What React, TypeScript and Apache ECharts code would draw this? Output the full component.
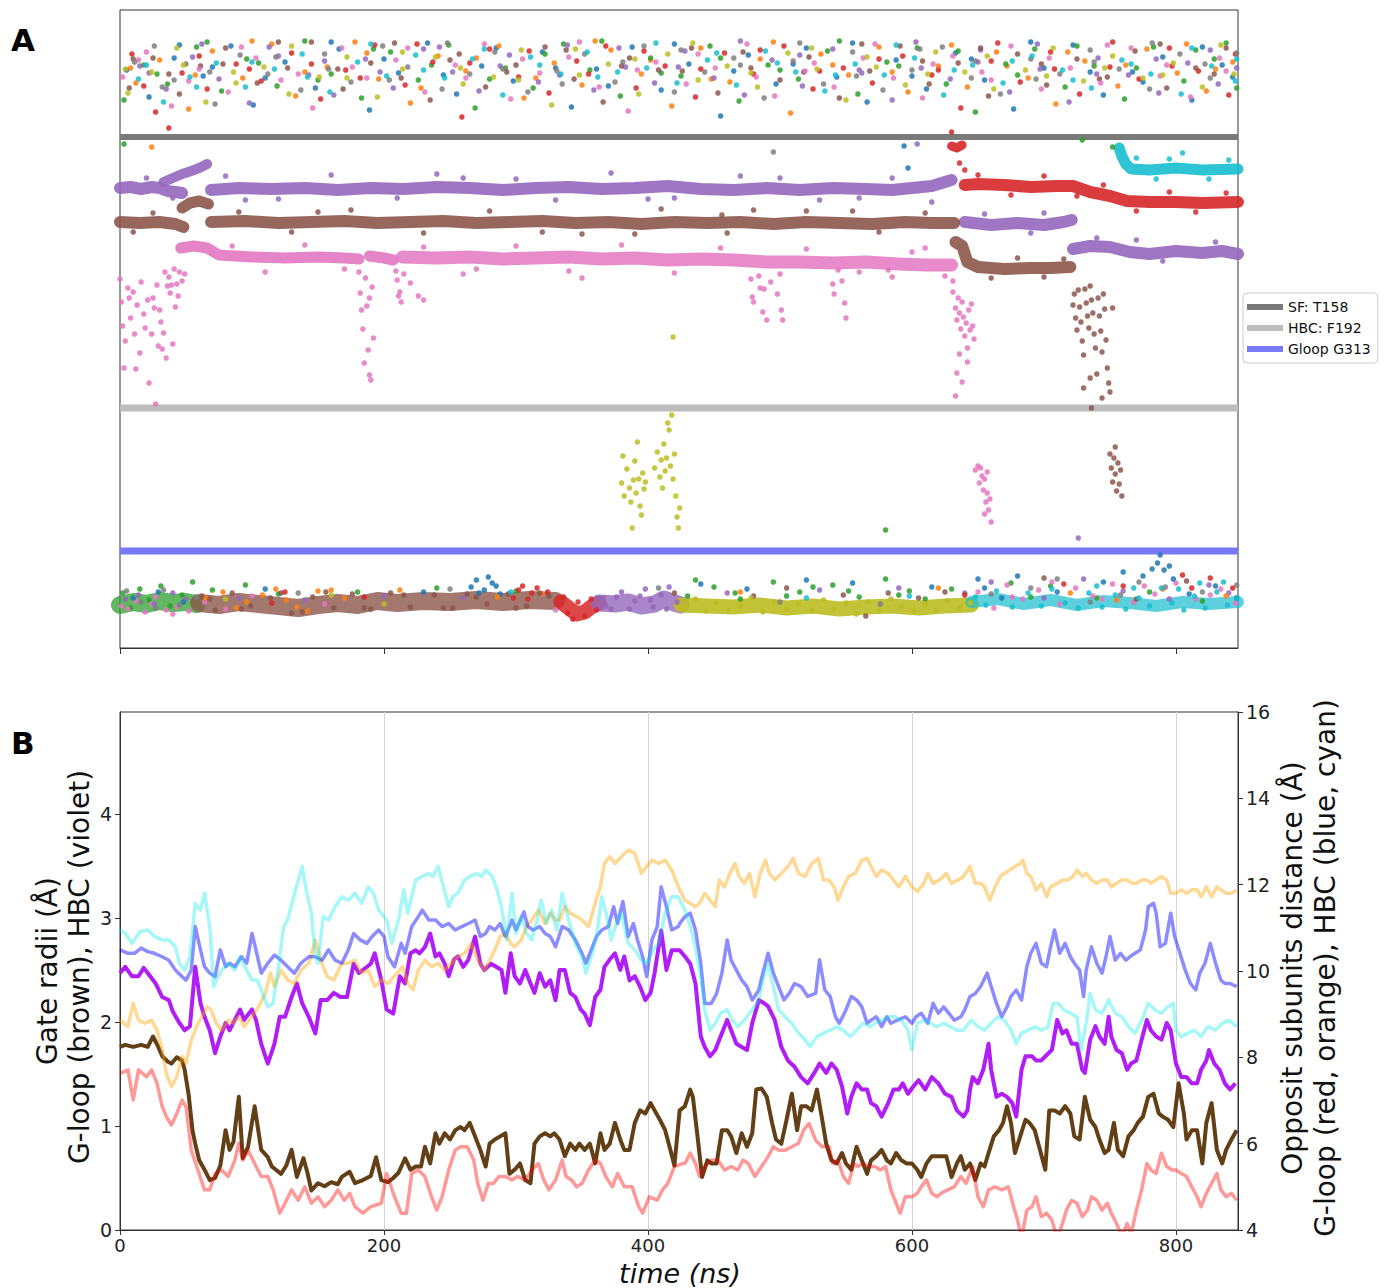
import React, { useEffect, useRef } from "react";
import * as echarts from "echarts";

// ---------- shared ----------
const T_MAX = 847;
const xTicks = [0, 200, 400, 600, 800];
const leftTicks = [0, 1, 2, 3, 4];
const FONT = "DejaVu Sans";
const C = {
  blue: "#1f77b4", orange: "#ff7f0e", green: "#2ca02c", red: "#d62728", purple: "#9467bd",
  brown: "#8c564b", pink: "#e377c2", gray: "#7f7f7f", olive: "#bcbd22", cyan: "#17becf",
};

// ---------- Panel A: reference levels ----------
const refNames = ["SF: T158", "HBC: F192", "Gloop G313"];
const refLevels = [51.1, 24.0, 9.7];
const refColors = ["#7a7a7a", "#bdbdbd", "#7878f8"];
const refWidths = [6, 7, 7];

// ---------- Panel A: bands (time ns, z) ----------
const purpleBand1 = [[0,46.0],[8,46.1],[16,45.9],[24,46.1],[30,46.0],[36,45.7],[42,45.6],[47,45.5]];
const purpleRise = [[33,46.6],[40,47.0],[47,47.4],[54,47.7],[60,48.0],[66,48.4]];
const purpleBand2 = [[69,45.8],[90,46.0],[115,45.9],[140,46.0],[165,45.8],[190,46.0],[215,45.9],[240,46.1],[265,46.0],[290,45.8],[315,46.0],[340,46.1],[365,45.9],[390,46.0],[415,46.2],[440,45.9],[465,45.8],[490,46.0],[515,45.8],[540,46.0],[565,45.9],[585,45.8],[600,46.0],[615,46.2],[625,46.6],[630,46.8]];
const purpleBand3 = [[640,42.6],[660,42.3],[680,42.5],[700,42.3],[715,42.6],[721,42.8]];
const purpleBand4 = [[722,39.9],[735,40.2],[750,40.1],[765,39.6],[780,39.4],[800,39.7],[820,39.5],[835,39.7],[847,39.4]];
const brownBand1 = [[0,42.6],[15,42.5],[30,42.6],[42,42.4],[48,42.1]];
const brownRise = [[47,44.0],[53,44.5],[60,44.7],[67,44.4]];
const brownBand2 = [[69,42.6],[95,42.7],[120,42.5],[145,42.6],[170,42.7],[195,42.5],[220,42.6],[245,42.7],[270,42.5],[295,42.6],[320,42.7],[345,42.5],[370,42.6],[395,42.4],[420,42.6],[445,42.5],[470,42.6],[495,42.4],[520,42.6],[545,42.5],[570,42.4],[595,42.6],[615,42.5],[632,42.5]];
const brownBand3 = [[633,40.6],[638,40.2],[642,38.6],[650,38.1],[670,37.9],[690,38.0],[705,38.0],[720,38.1]];
const pinkBand1 = [[46,40.0],[56,40.2],[66,40.0],[75,39.3],[100,39.1],[125,39.0],[150,39.1],[170,39.0],[181,38.9]];
const pinkBand2 = [[189,39.2],[200,39.0],[207,38.8]];
const pinkBand3 = [[214,39.1],[240,39.0],[265,39.1],[290,38.9],[315,39.0],[340,39.1],[365,38.9],[390,39.0],[415,38.8],[440,38.9],[465,38.8],[490,38.6],[515,38.6],[540,38.5],[565,38.6],[590,38.4],[610,38.3],[630,38.3]];
const redSpike = [[630,50.2],[634,50.0],[638,50.3]];
const redBand = [[640,46.3],[650,46.4],[670,46.3],[690,46.1],[710,46.2],[722,46.2],[735,45.6],[750,45.2],[763,44.7],[780,44.6],[800,44.6],[820,44.5],[847,44.6]];
const cyanBand = [[757,50.0],[759,49.2],[762,48.4],[766,47.9],[780,47.8],[800,48.0],[820,47.8],[847,47.9]];

// band fringes (stray points around the dense bands)
const purpleFringe = [[80,47.2],[95,44.8],[120,44.9],[160,47.3],[210,45.0],[240,47.4],[260,47.0],[300,46.9],[330,44.8],[372,47.5],[400,44.9],[420,45.0],[470,47.2],[500,47.0],[530,44.8],[560,45.0],[585,47.0],[615,44.6],[20,47.0],[40,45.0],[655,43.4],[690,41.5],[740,41.0],[790,38.7],[830,40.6],[700,43.5],[770,40.8]];
const brownFringe = [[90,43.6],[130,41.6],[150,43.6],[175,43.8],[230,41.5],[280,43.7],[320,41.6],[350,41.4],[390,41.4],[410,43.9],[456,43.3],[460,41.5],[480,43.8],[520,43.7],[555,43.7],[575,41.6],[610,43.5],[10,41.6],[25,43.5],[660,37.0],[680,39.0],[700,37.1],[715,38.9]];
const pinkFringe = [[85,40.2],[110,37.6],[140,40.3],[170,37.9],[230,40.1],[260,37.4],[270,37.9],[300,40.2],[340,37.7],[350,37.0],[380,40.3],[420,37.5],[455,40.0],[500,37.4],[520,39.9],[560,37.6],[600,39.6],[625,37.2],[610,40.0],[585,37.1]];
const redFringe = [[650,47.3],[675,45.3],[700,47.2],[725,45.2],[745,46.3],[770,43.7],[795,45.6],[815,43.6],[838,45.5],[636,48.5],[640,47.8]];
const cyanFringe = [[770,49.0],[785,46.9],[805,49.5],[825,46.9],[840,48.8],[795,48.9]];

// ---------- Panel A: top cloud (time ns, z) ----------
const topBlue = [[5,57.8],[22,55.1],[41,59.0],[63,57.2],[84,60.2],[101,54.3],[125,58.6],[148,56.0],[166,59.9],[189,53.8],[211,57.5],[233,60.5],[255,55.4],[274,58.2],[298,56.7],[320,59.6],[342,54.1],[361,57.9],[388,60.1],[410,55.8],[431,58.4],[455,53.2],[476,59.3],[497,56.4],[520,60.0],[543,57.1],[566,54.6],[588,58.8],[611,55.9],[633,59.5],[655,56.8],[677,53.9],[700,58.0],[722,60.3],[745,55.3],[767,57.6],[790,59.1],[812,54.8],[835,58.3],[594,50.2],[597,48.0],[45,60.3],[70,58.1],[110,57.0],[160,60.6],[200,58.9],[245,57.3],[285,60.0],[330,58.0],[370,56.2],[420,60.4],[465,57.7],[510,58.4],[555,60.5],[600,57.2],[645,58.9],[690,60.6],[735,57.6],[775,56.6],[820,60.1],[843,57.1]];
const topOrange = [[12,56.5],[30,58.8],[52,53.9],[70,59.7],[93,57.0],[115,60.4],[133,55.2],[157,58.1],[178,60.6],[196,56.9],[220,54.5],[241,59.2],[262,57.7],[287,60.2],[306,55.0],[329,58.5],[350,56.3],[372,59.8],[395,57.4],[418,54.2],[440,60.0],[462,56.6],[485,58.9],[508,53.5],[531,59.4],[552,57.3],[575,60.1],[597,55.6],[620,58.2],[642,56.1],[664,59.6],[688,57.0],[709,54.4],[731,58.7],[756,56.2],[778,59.9],[801,57.5],[823,55.7],[843,58.6],[24,50.1],[8,58.0],[57,57.3],[100,60.7],[140,57.6],[187,59.5],[228,56.0],[270,59.0],[315,57.0],[360,60.7],[402,58.8],[448,56.9],[495,60.6],[540,58.3],[585,57.6],[630,60.3],[672,58.2],[718,59.6],[762,58.3],[808,60.4],[830,57.9]];
const topGreen = [[3,54.8],[18,58.3],[36,56.4],[58,60.1],[77,55.7],[96,58.9],[119,56.2],[140,60.7],[160,57.4],[183,55.0],[205,59.6],[226,56.8],[249,60.3],[269,54.0],[292,58.0],[313,56.0],[336,60.4],[356,57.8],[379,55.2],[402,59.0],[425,57.2],[447,60.2],[469,54.7],[491,58.3],[514,56.9],[536,59.7],[559,55.4],[581,58.6],[604,60.0],[626,56.4],[648,53.6],[671,58.4],[693,59.9],[716,56.1],[738,58.2],[761,54.9],[783,60.1],[806,56.7],[829,58.9],[846,56.0],[3,50.4],[729,50.8],[752,50.1],[28,57.4],[66,60.6],[105,58.5],[150,56.8],[192,59.9],[236,58.3],[280,56.9],[322,59.4],[365,60.7],[410,57.5],[455,59.0],[500,57.8],[545,60.7],[590,58.2],[635,59.7],[680,57.3],[725,60.2],[770,58.0],[815,59.8],[838,60.5]];
const topRed = [[9,59.4],[27,53.6],[47,57.5],[66,55.9],[88,58.4],[107,56.7],[130,59.5],[152,54.9],[171,57.8],[193,60.3],[216,56.3],[237,58.6],[259,53.1],[280,59.9],[302,57.1],[325,55.5],[346,58.7],[368,60.2],[391,56.0],[413,58.2],[436,55.1],[458,59.5],[480,57.4],[503,60.2],[525,55.9],[548,58.0],[570,56.5],[593,59.2],[615,57.3],[637,54.0],[660,58.7],[682,56.6],[705,59.6],[727,55.4],[750,58.1],[772,56.9],[795,60.0],[817,57.7],[840,55.3],[37,52.0],[630,51.6],[18,56.2],[60,59.2],[98,57.9],[145,58.4],[182,57.0],[225,60.4],[265,58.5],[310,59.7],[355,57.4],[397,59.7],[440,57.9],[485,59.8],[530,57.7],[575,58.9],[620,57.8],[665,60.5],[708,57.9],[752,60.6],[797,58.2],[845,59.4]];
const topPurple = [[15,58.2],[35,55.9],[55,59.1],[75,56.9],[98,54.5],[120,59.2],[143,57.3],[162,55.3],[186,58.9],[207,56.0],[230,59.9],[252,57.6],[272,55.7],[295,59.3],[317,56.6],[339,60.3],[359,55.8],[383,58.1],[405,56.5],[428,59.7],[450,57.0],[473,55.3],[494,58.8],[517,56.2],[540,59.9],[562,57.5],[585,54.8],[607,58.0],[629,56.9],[652,59.8],[674,55.6],[697,57.9],[719,54.6],[741,59.0],[764,57.3],[787,55.5],[809,58.5],[832,56.4],[604,50.4],[22,57.5],[62,60.4],[113,60.1],[155,58.7],[197,57.6],[242,60.1],[288,58.2],[333,57.3],[378,60.0],[423,58.1],[470,60.7],[515,59.3],[560,57.8],[603,60.6],[650,58.6],[695,60.4],[740,57.4],[785,58.9],[826,59.8],[846,58.0]];
const topBrown = [[7,56.0],[25,59.0],[45,55.4],[61,58.2],[80,60.0],[104,56.5],[127,58.0],[145,60.6],[169,55.9],[190,58.5],[213,57.0],[235,54.8],[257,59.4],[277,56.1],[300,58.3],[322,60.1],[344,56.9],[366,54.6],[386,59.0],[408,57.8],[433,60.0],[453,55.5],[478,58.0],[500,56.8],[522,59.1],[545,55.0],[568,57.7],[591,60.2],[613,56.4],[635,58.5],[658,55.2],[680,59.4],[702,56.3],[725,58.9],[748,57.1],[769,59.7],[793,56.0],[815,58.0],[838,60.0],[37,57.4],[78,58.4],[120,60.6],[165,57.9],[208,60.5],[250,58.8],[293,57.6],[338,59.8],[380,58.2],[426,57.7],[472,59.6],[518,57.6],[562,60.4],[608,58.7],[652,60.0],[698,58.4],[742,56.9],[788,60.4],[829,57.4],[10,58.9]];
const topPink = [[2,57.1],[20,59.6],[39,54.2],[60,57.9],[82,55.6],[103,59.0],[122,56.8],[146,54.0],[168,60.0],[187,57.0],[209,58.8],[231,55.6],[254,58.3],[276,60.4],[296,54.9],[318,57.5],[340,59.1],[363,56.1],[385,53.7],[406,58.6],[429,56.4],[451,58.0],[475,60.4],[496,55.2],[519,57.7],[541,56.1],[563,59.0],[586,57.0],[608,55.0],[631,59.2],[653,57.6],[675,60.2],[698,55.9],[720,58.0],[743,56.5],[766,60.0],[788,57.2],[811,55.1],[833,59.0],[14,58.8],[52,56.7],[92,60.1],[135,57.4],[176,58.1],[218,60.0],[262,57.0],[305,58.9],[348,60.6],[392,57.8],[438,59.4],[482,57.1],[526,58.5],[572,60.4],[616,58.4],[660,56.8],[704,59.0],[748,60.3],[793,58.3],[838,57.7]];
const topGray = [[11,58.6],[32,56.1],[50,58.4],[72,54.4],[91,59.3],[112,57.4],[137,55.8],[155,59.4],[175,56.6],[199,60.2],[218,58.1],[244,55.9],[265,57.4],[284,59.6],[309,55.6],[331,57.7],[352,59.4],[375,56.6],[397,60.2],[420,55.6],[443,57.6],[465,59.0],[488,55.0],[510,58.7],[533,56.4],[555,59.6],[578,55.8],[600,57.8],[623,60.1],[645,57.0],[667,55.4],[690,58.9],[712,57.4],[735,59.8],[757,57.9],[780,55.9],[803,59.4],[826,57.0],[846,59.5],[495,49.6],[26,60.2],[68,57.6],[118,59.1],[158,57.9],[204,56.8],[248,60.5],[290,57.9],[335,56.4],[381,58.6],[425,59.8],[470,58.3],[515,60.5],[558,57.2],[606,59.9],[648,58.7],[694,56.9],[738,58.6],[782,60.5],[822,58.4],[41,56.8]];
const topOlive = [[6,55.5],[24,57.6],[43,60.0],[65,54.6],[86,57.6],[109,58.1],[128,55.4],[151,57.1],[172,59.1],[195,55.1],[214,57.9],[239,59.1],[260,56.4],[283,57.1],[304,59.8],[327,54.3],[348,57.3],[370,58.4],[393,55.4],[415,59.4],[438,56.8],[460,58.2],[483,56.1],[506,59.5],[528,57.9],[550,54.8],[573,58.1],[595,56.3],[618,59.6],[640,57.6],[662,55.9],[686,57.8],[707,60.0],[730,56.7],[752,59.2],[775,57.0],[798,58.5],[820,56.1],[844,57.4],[4,57.9],[48,58.3],[88,56.5],[130,60.2],[172,57.0],[214,59.6],[258,58.0],[302,56.8],[345,59.9],[390,58.9],[434,60.5],[478,57.5],[524,60.0],[566,59.1],[612,57.4],[657,59.2],[702,57.2],[746,58.0],[790,57.3],[834,60.3]];
const topCyan = [[14,56.9],[33,54.6],[53,57.1],[73,58.5],[95,56.1],[117,57.9],[138,59.4],[159,55.6],[180,58.6],[202,57.2],[224,59.3],[246,57.0],[267,58.9],[290,55.3],[311,59.1],[334,57.4],[354,59.6],[377,57.6],[399,58.0],[422,56.5],[445,58.8],[467,56.3],[489,59.7],[512,57.6],[534,55.7],[557,58.4],[579,57.3],[602,59.0],[624,55.3],[646,58.3],[669,56.5],[691,59.2],[714,57.8],[736,56.0],[759,58.8],[781,57.4],[804,55.4],[827,58.2],[845,56.7],[20,58.3],[58,56.1],[100,58.6],[142,57.1],[190,60.4],[230,57.8],[276,59.9],[318,58.3],[362,57.1],[406,60.5],[452,59.5],[498,58.5],[542,57.3],[588,60.3],[632,57.8],[676,58.7],[722,56.8],[766,58.4],[812,60.0],[846,58.9]];

// ---------- Panel A: excursions ----------
const pinkEarly = [[0,36.9],[1,34.6],[2,32.2],[3,28.0],[4,30.7],[6,36.0],[8,33.0],[10,35.6],[11,31.4],[13,34.3],[15,29.5],[16,36.6],[18,33.4],[19,32.0],[21,34.8],[22,26.5],[24,31.4],[25,35.0],[26,34.0],[27,24.4],[28,36.3],[30,33.8],[31,32.6],[32,29.9],[33,31.5],[35,29.0],[37,37.1],[38,35.5],[39,36.3],[40,30.4],[42,34.1],[43,36.4],[44,35.2],[45,37.6],[34,37.6],[36,36.2],[41,37.9],[47,36.7],[49,37.4],[29,30.2],[12,27.9],[7,35.0]];
const pinkDips = [[181,37.6],[182,35.5],[183,33.8],[184,31.9],[185,28.5],[186,37.0],[187,34.2],[188,29.8],[189,27.3],[190,26.8],[191,36.1],[192,31.0],[189,35.0],[209,37.7],[210,36.8],[211,35.2],[212,35.6],[213,34.6],[215,37.4],[220,36.5],[226,35.2],[230,34.8],[478,36.9],[479,35.1],[480,34.6],[484,37.2],[485,36.0],[487,33.6],[488,35.9],[490,32.8],[493,36.6],[501,33.8],[502,32.8],[498,35.4],[540,36.4],[541,35.4],[547,36.7],[549,34.5],[550,33.0],[544,37.8],[582,37.8]];
const pinkDrop = [[631,35.6],[633,34.0],[634,32.8],[635,35.0],[636,33.5],[637,31.9],[638,34.6],[639,33.1],[640,31.2],[641,32.5],[642,30.0],[643,33.8],[644,31.8],[645,34.4],[636,29.4],[634,27.5],[638,26.6],[642,28.6],[646,32.2],[631,36.7],[647,30.9],[633,25.2]];
const pinkLow = [[648,17.8],[650,18.2],[651,16.5],[653,17.2],[654,15.8],[655,16.9],[656,14.6],[657,15.5],[658,13.8],[659,14.9],[660,12.6],[652,18.0],[655,13.4],[657,17.6]];
const brownDrop = [[722,34.3],[723,35.4],[724,33.0],[725,31.8],[726,35.8],[727,34.1],[728,32.6],[729,30.7],[730,29.3],[731,35.9],[732,34.5],[733,33.2],[734,32.0],[735,36.2],[736,34.8],[737,33.5],[738,31.4],[739,30.0],[741,35.0],[742,33.2],[743,31.7],[744,29.6],[745,35.4],[746,33.9],[747,30.8],[748,28.0],[749,26.5],[750,25.6],[740,27.4],[735,27.0],[730,26.0],[744,25.0],[736,24.0],[752,34.0]];
const brownLow = [[750,19.4],[751,18.0],[752,16.6],[753,19.0],[754,17.4],[755,15.7],[756,18.5],[757,16.4],[758,17.8],[759,15.2],[754,20.1]];
const oliveLow = [[380,16.5],[382,15.2],[384,17.9],[386,16.0],[387,14.6],[389,16.8],[390,18.7],[391,15.5],[393,16.9],[394,14.2],[396,17.5],[397,15.9],[398,16.6],[381,19.2],[392,20.6],[395,13.3],[388,12.0],[405,18.0],[407,19.6],[409,17.1],[410,18.8],[412,20.4],[413,17.7],[414,19.0],[416,21.8],[417,18.2],[418,23.3],[419,16.9],[420,19.4],[421,15.2],[422,13.1],[423,12.0],[415,22.5],[411,16.0],[424,14.0],[419,31.1]];

// ---------- Panel A: bottom cloud ----------
const coreGreen = [[0,4.3],[10,4.6],[20,4.4],[30,4.7],[40,4.5],[50,4.6],[58,4.4]];
const coreBrown = [[60,4.5],[75,4.3],[90,4.6],[105,4.4],[120,4.2],[135,4.0],[150,4.3],[165,4.5],[180,4.3],[195,4.7],[210,4.5],[230,4.7],[250,4.6],[270,4.8],[290,4.6],[310,4.8],[330,4.7]];
const coreRed = [[334,4.6],[340,4.0],[346,3.4],[352,3.6],[358,4.2],[363,4.5]];
const corePurple = [[363,4.5],[375,4.4],[385,4.6],[395,4.2],[405,4.4],[412,4.9],[420,4.5],[425,4.3]];
const coreOlive = [[425,4.3],[445,4.2],[465,4.1],[485,4.3],[505,4.0],[525,4.2],[545,3.9],[565,4.1],[585,4.2],[605,4.0],[625,4.2],[645,4.3]];
const coreCyan = [[645,4.6],[665,4.9],[685,4.4],[705,4.8],[725,4.3],[745,4.7],[765,4.5],[785,4.2],[805,4.6],[825,4.4],[847,4.6]];
const botGreen = [[2,5.5],[8,4.0],[15,5.9],[22,4.8],[31,6.2],[38,4.2],[47,5.3],[55,6.6],[70,5.8],[95,6.3],[120,5.4],[180,5.6],[240,6.0],[300,5.7],[430,5.2],[450,6.1],[470,4.9],[495,6.6],[515,5.6],[540,6.3],[560,5.1],[580,6.9],[598,5.7],[610,4.9],[630,5.9],[675,6.5],[690,5.1],[705,6.2],[740,5.0],[780,5.6],[820,4.7],[580,11.8],[436,6.8],[466,5.5],[505,5.2],[525,6.1],[552,5.7],[590,5.3]];
const botPink = [[1,4.2],[6,3.9],[12,4.7],[19,3.6],[27,5.1],[35,3.8],[43,4.1],[52,3.7],[64,4.6],[80,3.9],[100,5.2],[155,4.4],[330,3.8],[650,5.6],[662,4.0],[672,6.3],[684,4.9],[696,5.8],[712,4.4],[724,6.0],[737,5.2],[752,6.4],[768,4.6],[784,5.4],[800,6.5],[815,4.9],[834,5.9],[845,4.5],[24,4.4],[40,3.4],[676,5.1],[706,6.6],[744,4.9],[776,6.2],[826,5.3]];
const botPurple = [[4,4.9],[14,5.3],[26,4.4],[40,5.5],[50,4.9],[90,5.0],[140,4.8],[200,5.2],[260,5.0],[320,5.3],[366,5.0],[372,3.9],[380,5.6],[390,4.7],[398,5.9],[404,4.1],[410,5.3],[416,6.1],[422,4.6],[460,5.5],[530,5.8],[590,6.0],[640,5.5],[660,6.6],[700,5.0],[730,6.9],[760,5.7],[795,4.9],[825,6.3],[840,5.5],[726,11.0],[368,4.2],[376,5.1],[386,3.9],[394,5.2],[402,4.8],[414,3.9]];
const botBlue = [[10,5.0],[29,5.6],[48,4.6],[110,5.9],[230,5.6],[266,6.1],[270,6.8],[276,5.8],[282,6.5],[288,5.4],[440,6.4],[475,5.9],[520,6.8],[555,6.5],[615,6.1],[655,6.0],[668,5.0],[680,7.2],[710,5.6],[745,6.6],[775,7.2],[786,8.5],[788,9.3],[791,7.8],[798,6.9],[810,5.4],[830,6.2],[846,5.0],[272,5.5],[279,7.1],[285,6.2],[650,6.9],[760,7.6],[782,7.9],[795,8.2]];
const botOrange = [[65,5.0],[78,5.6],[88,4.0],[108,5.3],[126,4.8],[142,3.7],[150,5.7],[170,5.0],[212,5.8],[286,5.1],[320,5.4],[470,5.6],[620,6.0],[720,5.5],[755,4.8],[790,5.9],[838,5.2],[96,4.6],[118,5.9],[134,4.1],[160,5.8]];
const botBrown = [[62,5.2],[72,3.8],[85,5.5],[99,4.2],[114,5.0],[130,3.5],[146,5.1],[162,4.0],[176,5.4],[190,3.9],[205,5.5],[220,4.1],[238,5.3],[252,4.0],[263,5.4],[278,4.4],[294,5.4],[308,4.2],[325,5.2],[420,5.5],[480,5.2],[505,6.0],[548,5.3],[565,3.2],[582,5.5],[605,5.0],[625,5.6],[700,7.0],[770,4.9],[808,6.7],[68,4.9],[92,3.9],[122,5.5],[138,3.6],[156,5.6],[185,4.0],[215,5.3],[245,4.0],[270,5.1],[300,4.0],[318,5.5]];
const botRed = [[115,4.5],[125,5.6],[185,5.1],[298,5.0],[305,6.2],[312,5.5],[336,5.1],[339,3.5],[343,2.9],[347,4.6],[352,3.2],[357,4.9],[361,3.8],[640,5.3],[715,6.4],[760,6.2],[805,7.3],[812,6.0],[826,7.0],[843,6.0],[302,5.8],[309,4.9],[316,6.0],[324,5.6]];
const botGray = [[16,4.6],[33,5.8],[45,4.3],[58,5.1],[135,5.5],[250,5.9],[408,6.0],[500,4.6],[576,4.4],[660,5.4],[690,6.0],[735,4.6],[758,5.3],[792,6.1],[820,5.6],[846,6.3],[5,5.7],[27,4.0],[710,6.9],[772,6.6]];
const botOlive = [[80,4.9],[160,5.3],[200,4.4],[428,4.0],[436,4.9],[444,3.7],[452,4.5],[461,3.8],[470,4.2],[478,5.0],[487,3.6],[496,4.6],[505,3.9],[514,4.4],[524,3.7],[533,4.8],[541,3.9],[550,4.5],[558,3.4],[567,4.6],[575,3.8],[584,4.9],[592,4.1],[601,3.7],[610,4.4],[618,3.8],[627,4.7],[636,4.0],[644,4.5]];
const botCyan = [[296,5.6],[520,5.0],[598,5.2],[648,5.1],[656,4.3],[664,5.7],[676,4.1],[688,5.5],[698,4.2],[706,5.9],[716,4.5],[726,4.0],[734,5.5],[744,4.1],[754,5.3],[762,3.9],[772,5.0],[780,4.2],[789,6.0],[797,4.5],[806,3.8],[814,5.2],[822,4.0],[831,5.6],[839,4.3],[846,5.0],[740,6.2],[768,6.0],[802,5.9],[818,6.5],[836,6.6]];

// ---------- Panel B: gate radii (left axis, Å) ----------
const gloopBrown = [[0,1.76],[4,1.78],[10,1.76],[16,1.78],[21,1.76],[25,1.86],[29,1.76],[32,1.67],[36,1.62],[39,1.6],[43,1.66],[47,1.63],[49,1.54],[52,1.3],[55,0.95],[57,0.83],[60,0.67],[64,0.58],[68,0.48],[72,0.5],[76,0.62],[80,0.96],[83,0.77],[86,0.85],[90,1.28],[93,0.69],[97,0.8],[102,1.19],[107,0.77],[112,0.7],[115,0.61],[122,0.54],[126,0.62],[130,0.77],[134,0.51],[139,0.69],[142,0.55],[145,0.38],[150,0.45],[155,0.42],[160,0.46],[165,0.44],[168,0.51],[174,0.56],[178,0.45],[184,0.48],[190,0.52],[194,0.7],[198,0.48],[203,0.46],[207,0.5],[211,0.55],[216,0.69],[220,0.58],[224,0.61],[228,0.61],[231,0.8],[235,0.64],[239,0.93],[242,0.83],[246,0.93],[250,0.87],[254,0.96],[258,0.99],[261,0.96],[265,1.03],[269,0.9],[273,0.77],[277,0.61],[280,0.83],[284,0.87],[288,0.9],[292,0.93],[295,0.54],[299,0.58],[303,0.64],[307,0.48],[311,0.45],[314,0.83],[318,0.9],[322,0.93],[326,0.9],[329,0.93],[333,0.87],[337,0.71],[341,0.83],[345,0.77],[348,0.83],[352,0.77],[356,0.83],[360,0.64],[364,0.93],[367,0.77],[371,0.83],[375,1.03],[379,0.87],[382,0.77],[386,0.77],[390,1.03],[394,1.15],[398,1.12],[402,1.22],[405,1.15],[409,1.06],[413,0.96],[417,0.77],[420,0.62],[424,1.15],[428,1.19],[432,1.35],[434,1.28],[437,0.96],[441,0.51],[445,0.67],[448,0.64],[452,0.64],[456,0.96],[460,0.96],[463,0.9],[467,0.74],[471,0.93],[475,0.8],[479,0.93],[482,1.35],[486,1.36],[490,1.28],[494,1.03],[497,0.87],[501,0.83],[505,1.06],[509,1.31],[513,0.96],[516,1.19],[520,1.19],[524,1.15],[528,1.35],[532,1.06],[535,0.83],[539,0.67],[543,0.64],[547,0.74],[550,0.64],[554,0.58],[558,0.8],[562,0.67],[566,0.54],[569,0.67],[573,0.71],[577,0.77],[581,0.67],[584,0.64],[588,0.74],[592,0.67],[596,0.64],[600,0.64],[604,0.58],[607,0.51],[611,0.64],[615,0.71],[619,0.71],[622,0.71],[626,0.71],[630,0.51],[634,0.64],[637,0.71],[640,0.58],[644,0.64],[648,0.48],[652,0.64],[655,0.61],[658,0.74],[662,0.9],[666,0.96],[669,1.03],[672,1.19],[675,1.03],[678,0.74],[682,0.9],[686,1.06],[689,1.03],[693,0.96],[697,0.77],[701,0.58],[704,1.15],[708,1.15],[712,1.12],[716,1.19],[720,1.12],[723,0.9],[727,0.87],[731,1.28],[735,1.06],[739,0.99],[742,0.87],[746,0.74],[749,0.77],[753,1.03],[756,0.77],[760,0.71],[764,0.9],[768,0.96],[771,1.03],[775,1.09],[779,1.28],[783,1.31],[787,1.12],[790,1.09],[794,1.06],[798,0.99],[802,1.41],[806,1.12],[808,0.87],[812,0.96],[816,0.96],[820,0.64],[823,1.03],[827,1.22],[831,0.77],[835,0.64],[838,0.77],[842,0.87],[846,0.96]];
const hbcViolet = [[0,2.47],[4,2.53],[9,2.44],[14,2.44],[18,2.52],[21,2.47],[27,2.37],[32,2.24],[37,2.21],[40,2.1],[45,1.99],[49,1.92],[53,1.96],[57,2.53],[61,2.18],[64,2.05],[68,1.92],[72,1.7],[76,1.86],[80,1.99],[83,1.92],[87,2.02],[91,2.12],[94,2.02],[100,2.12],[103,2.02],[107,1.79],[112,1.6],[117,1.79],[121,2.05],[125,2.05],[130,2.24],[134,2.37],[138,2.18],[143,2.05],[148,1.89],[152,2.21],[157,2.21],[162,2.28],[167,2.24],[172,2.24],[177,2.56],[181,2.47],[184,2.5],[190,2.56],[193,2.66],[198,2.4],[202,2.12],[207,2.08],[212,2.44],[216,2.37],[220,2.66],[224,2.69],[227,2.66],[231,2.72],[235,2.85],[239,2.63],[242,2.66],[246,2.56],[249,2.44],[253,2.6],[256,2.63],[260,2.53],[264,2.6],[269,2.82],[273,2.56],[276,2.5],[281,2.56],[285,2.53],[289,2.5],[292,2.28],[296,2.66],[299,2.44],[303,2.37],[307,2.5],[311,2.37],[314,2.28],[318,2.47],[322,2.34],[326,2.4],[330,2.21],[333,2.5],[337,2.5],[341,2.28],[345,2.24],[349,2.12],[352,2.08],[356,1.97],[360,2.24],[364,2.31],[367,2.53],[371,2.6],[375,2.66],[379,2.5],[382,2.63],[386,2.4],[390,2.44],[394,2.34],[398,2.21],[402,2.28],[405,2.47],[410,2.88],[414,2.5],[418,2.69],[421,2.69],[424,2.69],[428,2.63],[432,2.56],[436,2.37],[440,1.86],[443,1.76],[447,1.67],[451,1.73],[455,1.86],[460,2.02],[463,1.92],[467,1.79],[471,1.76],[475,1.73],[479,1.99],[484,2.21],[488,2.18],[491,2.15],[496,2.02],[501,1.76],[506,1.63],[511,1.57],[516,1.47],[521,1.41],[526,1.51],[530,1.6],[535,1.51],[539,1.6],[543,1.54],[547,1.38],[551,1.12],[554,1.28],[558,1.41],[562,1.35],[566,1.35],[569,1.22],[573,1.19],[577,1.09],[582,1.22],[586,1.35],[590,1.35],[593,1.41],[597,1.31],[601,1.38],[605,1.44],[610,1.35],[615,1.47],[620,1.41],[625,1.31],[630,1.28],[634,1.15],[639,1.09],[642,1.15],[644,1.35],[646,1.47],[650,1.41],[654,1.54],[658,1.79],[660,1.54],[664,1.28],[668,1.31],[672,1.28],[676,1.22],[679,1.09],[683,1.54],[686,1.67],[691,1.67],[694,1.63],[698,1.63],[701,1.67],[706,1.73],[710,2.02],[714,1.89],[717,1.92],[721,1.79],[725,1.79],[729,1.54],[731,1.51],[735,1.83],[739,1.96],[742,1.86],[746,1.79],[749,2.05],[751,1.86],[755,1.73],[759,1.7],[763,1.54],[766,1.6],[770,1.63],[774,1.83],[778,2.02],[781,1.92],[785,1.86],[789,1.83],[793,1.99],[796,1.92],[800,1.6],[804,1.47],[808,1.47],[812,1.41],[816,1.41],[819,1.54],[823,1.63],[825,1.73],[829,1.6],[833,1.54],[837,1.41],[841,1.35],[845,1.41]];

// ---------- Panel B: opposite subunit distances (right axis, Å) ----------
const gloopRed = [[0,7.63],[6,7.71],[10,7.01],[14,7.71],[20,7.55],[24,7.71],[28,7.4],[32,6.86],[35,6.63],[39,6.43],[43,6.7],[47,7.01],[50,6.86],[54,5.85],[59,5.39],[64,4.93],[68,4.93],[72,5.31],[77,5.39],[82,5.24],[87,5.62],[90,6.01],[93,5.62],[97,5.85],[102,5.54],[107,5.24],[112,5.24],[116,4.93],[121,4.39],[125,4.62],[130,4.93],[135,4.69],[140,5.0],[145,4.62],[150,4.77],[155,4.54],[160,4.69],[165,4.93],[170,4.69],[174,4.85],[178,4.54],[184,4.39],[190,4.54],[198,4.62],[202,5.31],[208,4.77],[213,4.39],[217,4.39],[221,5.31],[226,5.39],[231,5.24],[236,4.77],[240,4.46],[244,4.77],[249,5.39],[254,5.85],[258,5.93],[263,5.93],[268,5.62],[271,5.08],[275,4.69],[279,5.08],[283,5.08],[287,5.24],[292,5.24],[297,5.16],[301,5.24],[307,5.16],[312,5.39],[317,5.54],[321,5.16],[325,4.93],[330,5.16],[335,5.62],[338,5.24],[342,5.16],[346,5.0],[350,5.08],[355,5.39],[360,5.62],[364,5.54],[368,5.24],[373,5.0],[377,5.31],[382,5.0],[388,5.0],[393,4.54],[396,4.39],[401,4.77],[407,4.69],[411,4.93],[415,5.08],[420,5.47],[426,5.54],[428,5.54],[432,5.78],[436,5.54],[439,5.24],[443,5.47],[448,5.62],[453,5.62],[458,5.39],[463,5.47],[468,5.39],[472,5.62],[476,5.54],[481,5.24],[486,5.47],[491,5.7],[495,5.93],[499,5.85],[504,5.85],[509,5.93],[514,6.01],[518,6.32],[522,6.47],[527,6.08],[532,5.93],[537,5.93],[540,5.54],[544,5.62],[548,5.24],[552,5.08],[556,5.54],[559,5.47],[563,5.54],[567,5.47],[572,5.47],[576,5.39],[580,5.47],[584,4.93],[588,4.62],[591,4.39],[595,4.77],[600,4.77],[604,4.85],[607,5.0],[611,5.16],[615,4.85],[619,4.77],[622,4.85],[627,4.93],[632,5.0],[637,5.24],[641,5.08],[646,5.47],[650,4.77],[654,4.54],[658,4.93],[663,5.0],[668,4.93],[673,5.0],[677,4.54],[680,4.23],[683,3.8],[687,4.46],[691,4.54],[694,4.77],[698,4.31],[702,4.39],[706,4.23],[710,3.8],[714,4.15],[717,4.46],[721,4.69],[725,4.62],[729,4.31],[733,4.46],[736,4.77],[740,4.69],[744,4.46],[748,4.62],[751,4.39],[755,4.15],[759,3.85],[763,4.15],[766,3.9],[770,4.46],[774,4.93],[778,5.54],[781,5.39],[785,5.31],[789,5.78],[793,5.47],[797,5.39],[800,5.39],[804,5.31],[808,5.24],[812,5.0],[816,4.77],[819,4.54],[823,4.85],[827,5.08],[831,5.31],[834,4.93],[838,4.77],[842,4.85],[846,4.69]];
const gloopOrange = [[0,8.86],[6,8.71],[10,9.25],[14,8.86],[19,8.79],[24,8.86],[28,8.63],[32,8.17],[35,7.63],[39,7.32],[43,7.55],[47,8.02],[50,7.86],[54,8.4],[58,8.71],[62,8.94],[66,9.17],[69,9.1],[73,8.79],[77,8.63],[82,8.86],[86,8.79],[90,8.94],[94,8.71],[100,8.94],[105,9.17],[110,9.48],[114,9.95],[117,9.64],[122,10.02],[127,9.79],[132,9.71],[137,10.02],[143,10.18],[148,10.72],[152,10.25],[157,9.87],[162,9.79],[168,10.18],[173,10.18],[178,10.25],[183,9.95],[188,10.02],[193,9.64],[198,9.79],[203,9.71],[210,9.95],[214,10.1],[218,9.71],[222,9.56],[226,10.02],[231,10.25],[236,10.1],[241,10.18],[246,10.02],[251,10.18],[256,10.33],[261,10.41],[266,10.64],[271,10.25],[276,10.02],[280,10.25],[284,10.49],[288,10.8],[292,10.87],[296,10.64],[299,10.56],[304,10.72],[308,11.03],[312,11.18],[317,11.41],[322,11.1],[326,11.34],[330,11.18],[333,11.18],[337,11.49],[341,11.34],[346,11.26],[350,11.18],[355,11.03],[360,11.57],[364,11.95],[367,12.49],[371,12.65],[375,12.49],[380,12.65],[385,12.8],[390,12.73],[395,12.26],[399,12.42],[403,12.57],[408,12.49],[413,12.57],[418,12.34],[422,12.03],[424,11.88],[428,11.64],[432,11.57],[436,11.49],[439,11.57],[443,11.8],[447,11.64],[451,11.49],[454,12.11],[458,11.95],[462,12.26],[466,12.49],[469,12.19],[473,12.03],[477,12.26],[481,11.72],[485,12.26],[489,12.57],[492,12.26],[496,12.11],[501,12.26],[506,12.42],[510,12.61],[514,12.26],[519,12.19],[524,12.49],[529,12.61],[533,12.11],[537,12.11],[541,11.95],[544,11.64],[548,11.95],[552,12.19],[557,12.26],[562,12.57],[566,12.61],[569,12.42],[573,12.19],[577,12.34],[582,12.26],[586,12.11],[590,11.95],[595,12.19],[600,11.95],[604,11.84],[609,12.03],[612,12.26],[616,12.03],[621,12.11],[626,12.26],[630,12.03],[635,12.11],[639,12.19],[644,12.42],[648,12.03],[652,12.03],[655,11.95],[659,11.64],[663,11.95],[667,12.19],[670,12.26],[674,12.34],[678,12.42],[682,12.49],[684,12.57],[687,12.26],[690,12.19],[694,11.88],[698,12.03],[702,11.72],[705,11.95],[710,12.03],[714,12.11],[718,12.11],[722,12.19],[725,12.34],[729,12.19],[732,12.26],[736,12.11],[740,12.03],[744,12.11],[748,12.11],[751,11.95],[755,12.03],[759,12.11],[763,12.11],[767,12.03],[770,12.03],[774,12.11],[778,12.11],[781,12.03],[785,12.11],[789,12.19],[793,12.11],[796,11.8],[800,11.8],[804,11.88],[808,11.8],[812,11.88],[816,11.88],[819,11.72],[823,11.95],[827,11.72],[831,11.95],[834,11.88],[838,11.8],[842,11.8],[846,11.88]];
const hbcBlue = [[0,10.49],[6,10.41],[11,10.41],[16,10.53],[21,10.45],[26,10.41],[32,10.33],[37,10.25],[42,10.02],[47,9.87],[50,9.79],[54,10.02],[57,11.03],[61,10.49],[64,10.1],[68,9.95],[72,9.87],[76,10.49],[80,10.1],[83,10.18],[87,10.1],[92,10.33],[96,10.18],[100,10.87],[103,10.49],[107,9.95],[112,10.18],[117,10.37],[122,10.25],[127,10.1],[132,9.95],[137,10.18],[143,10.33],[148,10.33],[153,10.25],[158,10.49],[163,10.25],[168,10.18],[173,10.49],[177,10.87],[182,10.72],[187,10.64],[191,10.8],[196,10.95],[200,10.8],[203,10.33],[208,10.1],[213,10.64],[216,10.41],[221,11.03],[226,11.26],[229,11.41],[234,11.18],[239,11.18],[244,11.03],[249,11.1],[254,10.95],[259,11.03],[264,11.1],[269,11.18],[273,10.8],[277,10.87],[280,11.03],[284,10.95],[288,11.1],[292,10.8],[297,11.18],[300,10.95],[306,11.37],[309,11.03],[313,10.95],[318,11.03],[322,10.87],[326,10.8],[330,10.56],[335,11.03],[340,10.95],[345,10.72],[350,10.41],[353,10.18],[357,10.49],[361,10.8],[365,10.95],[370,11.03],[374,11.49],[377,11.1],[381,11.61],[385,10.8],[389,11.1],[392,10.72],[396,10.33],[399,9.87],[403,10.72],[407,11.03],[410,11.95],[414,11.49],[418,10.95],[423,11.03],[424,11.1],[428,11.26],[432,11.34],[436,10.95],[440,10.18],[443,9.25],[448,9.25],[452,9.48],[456,9.95],[460,10.72],[463,10.25],[467,10.02],[471,9.79],[475,9.64],[479,9.33],[484,9.56],[487,9.95],[491,10.41],[495,9.95],[499,9.64],[503,9.33],[507,9.48],[511,9.71],[516,9.64],[521,9.41],[527,9.48],[530,10.26],[534,9.56],[538,9.41],[542,8.94],[545,8.79],[550,9.1],[554,9.41],[558,9.33],[562,9.17],[566,8.79],[569,8.86],[573,8.94],[577,8.71],[581,8.94],[584,8.79],[589,8.86],[595,8.94],[600,8.79],[603,8.94],[607,9.02],[612,8.79],[616,9.25],[620,9.02],[624,9.17],[628,9.02],[632,8.86],[637,8.94],[640,9.1],[644,9.41],[648,9.48],[652,9.64],[657,9.95],[660,9.64],[664,9.25],[668,8.94],[672,9.17],[675,9.41],[679,9.56],[683,9.33],[687,10.1],[690,10.41],[694,10.64],[698,10.18],[702,10.1],[705,10.56],[708,10.95],[712,10.41],[716,10.64],[720,10.33],[723,10.18],[727,10.02],[730,9.41],[732,10.02],[736,10.56],[740,10.18],[744,9.95],[747,10.33],[750,10.8],[754,10.25],[758,10.41],[762,10.25],[765,10.33],[769,10.41],[773,10.49],[777,10.95],[779,11.49],[783,11.57],[785,11.34],[788,10.56],[792,10.64],[796,11.34],[799,10.8],[803,10.41],[807,10.02],[811,9.71],[815,9.56],[818,9.95],[822,10.18],[826,10.64],[830,10.18],[834,9.79],[837,9.71],[841,9.71],[846,9.64]];
const hbcCyan = [[0,10.95],[4,10.87],[9,10.64],[15,10.91],[21,10.95],[26,10.8],[32,10.72],[37,10.72],[42,10.56],[45,10.18],[49,10.02],[53,10.33],[57,11.57],[61,11.41],[64,11.8],[68,11.03],[71,9.64],[73,9.79],[77,10.02],[82,10.18],[87,10.02],[91,10.33],[96,10.02],[100,9.79],[104,9.79],[107,9.56],[112,9.17],[116,9.25],[120,10.1],[124,11.03],[127,11.18],[133,11.88],[138,12.42],[141,11.88],[145,11.34],[148,10.33],[150,10.18],[154,11.26],[158,11.18],[163,11.49],[168,11.72],[173,11.64],[178,11.8],[183,11.57],[188,11.95],[192,11.8],[196,11.41],[200,11.26],[202,11.18],[206,10.64],[211,11.18],[215,11.88],[218,11.34],[224,12.11],[229,12.19],[234,12.26],[237,12.19],[241,12.42],[245,11.95],[249,11.49],[252,11.72],[256,11.8],[261,12.11],[265,12.19],[270,12.26],[274,12.19],[277,12.34],[282,12.19],[285,11.95],[289,11.49],[293,10.72],[297,11.8],[300,10.87],[304,11.26],[308,10.87],[312,10.72],[316,11.18],[319,11.64],[323,11.1],[327,11.41],[331,10.95],[335,11.8],[338,11.41],[342,10.95],[346,10.56],[350,10.33],[353,9.95],[357,10.33],[361,10.8],[365,11.72],[369,11.26],[372,10.72],[376,11.1],[380,11.34],[385,10.64],[390,10.49],[395,10.25],[399,10.18],[404,10.49],[408,10.64],[413,11.34],[418,11.72],[423,11.72],[428,11.41],[432,11.03],[436,10.56],[440,9.87],[443,9.1],[447,8.63],[451,8.79],[455,9.02],[460,9.1],[464,8.86],[468,8.71],[473,8.86],[479,9.1],[484,9.33],[487,9.79],[491,10.18],[495,9.64],[499,9.1],[504,8.94],[509,8.79],[514,8.56],[519,8.4],[523,8.25],[528,8.48],[533,8.56],[538,8.63],[543,8.71],[548,8.63],[553,8.48],[558,8.63],[563,8.79],[568,8.71],[572,8.79],[577,8.86],[582,8.94],[587,8.94],[592,8.86],[597,8.63],[600,8.17],[604,8.79],[609,8.86],[614,8.79],[619,8.71],[624,8.79],[629,8.71],[634,8.63],[639,8.63],[645,8.86],[650,8.71],[655,8.63],[660,8.79],[665,8.94],[670,8.86],[675,8.63],[679,8.32],[683,8.56],[688,8.63],[693,8.71],[698,8.63],[703,8.71],[707,9.25],[711,9.25],[715,9.1],[720,9.02],[725,8.94],[728,8.17],[732,8.79],[735,9.48],[739,9.1],[744,9.02],[749,9.33],[754,9.02],[759,8.94],[764,8.71],[769,8.56],[774,8.86],[779,9.25],[784,9.1],[789,9.02],[794,9.17],[798,9.25],[800,8.63],[804,8.48],[809,8.56],[814,8.63],[819,8.48],[824,8.71],[830,8.63],[835,8.79],[840,8.86],[846,8.71]];

// ---------- option building ----------
const scatter = (data: number[][], color: string, size = 5.5) => ({
  type: "scatter", xAxisIndex: 0, yAxisIndex: 0, data, symbolSize: size, silent: true, z: 4,
  itemStyle: { color, opacity: 0.85 },
});
const band = (data: number[][], color: string, width = 12, opacity = 0.9) => ({
  type: "line", xAxisIndex: 0, yAxisIndex: 0, data, symbol: "none", silent: true, z: 3,
  lineStyle: { color, width, opacity, cap: "round", join: "round" },
});
const trace = (data: number[][], axis: number, color: string, width: number, opacity: number, z: number) => ({
  type: "line", xAxisIndex: 1, yAxisIndex: axis, data, symbol: "none", silent: true, z,
  lineStyle: { color, width, opacity, join: "round" }, clip: true,
});

const axisColor = "#333";

function buildOption() {
  const series: any[] = [];
  refNames.forEach((name, i) => {
    series.push({
      name, type: "line", xAxisIndex: 0, yAxisIndex: 0, symbol: "none", silent: true, z: 2,
      data: [[0, refLevels[i]], [T_MAX, refLevels[i]]],
      color: refColors[i], itemStyle: { color: refColors[i] },
      lineStyle: { color: refColors[i], width: refWidths[i] },
    });
  });
  // bands
  series.push(band(purpleBand1, C.purple), band(purpleRise, C.purple, 10), band(purpleBand2, C.purple),
    band(purpleBand3, C.purple), band(purpleBand4, C.purple));
  series.push(band(brownBand1, C.brown), band(brownRise, C.brown, 11), band(brownBand2, C.brown), band(brownBand3, C.brown));
  series.push(band(pinkBand1, C.pink, 11), band(pinkBand2, C.pink, 11), band(pinkBand3, C.pink, 13, 0.85));
  series.push(band(redSpike, C.red, 9), band(redBand, C.red), band(cyanBand, C.cyan, 11));
  // bottom cores
  series.push(band(coreGreen, C.green, 18, 0.75), band(coreBrown, C.brown, 18, 0.8), band(coreRed, C.red, 15, 0.85),
    band(corePurple, C.purple, 17, 0.8), band(coreOlive, C.olive, 15, 0.9), band(coreCyan, C.cyan, 12, 0.7));
  // clouds
  const clouds: [number[][], string][] = [
    [topBlue, C.blue], [topOrange, C.orange], [topGreen, C.green], [topRed, C.red], [topPurple, C.purple],
    [topBrown, C.brown], [topPink, C.pink], [topGray, C.gray], [topOlive, C.olive], [topCyan, C.cyan],
    [purpleFringe, C.purple], [brownFringe, C.brown], [pinkFringe, C.pink], [redFringe, C.red], [cyanFringe, C.cyan],
    [pinkEarly, C.pink], [pinkDips, C.pink], [pinkDrop, C.pink], [pinkLow, C.pink], [brownDrop, C.brown],
    [brownLow, C.brown], [oliveLow, C.olive],
    [botGreen, C.green], [botPink, C.pink], [botPurple, C.purple], [botBlue, C.blue], [botOrange, C.orange],
    [botBrown, C.brown], [botRed, C.red], [botGray, C.gray], [botOlive, C.olive], [botCyan, C.cyan],
  ];
  clouds.forEach(([d, c]) => series.push(scatter(d, c)));
  // panel B
  series.push(trace(gloopBrown, 1, "#633f16", 4, 1, 5));
  series.push(trace(hbcViolet, 1, "#b01ef5", 4, 1, 5));
  series.push(trace(gloopRed, 2, "#ff0000", 3.5, 0.4, 6));
  series.push(trace(gloopOrange, 2, "#ffa500", 3.5, 0.42, 6));
  series.push(trace(hbcBlue, 2, "#0000ff", 3.5, 0.45, 6));
  series.push(trace(hbcCyan, 2, "#00e8e8", 3.5, 0.35, 6));

  const tickStyle = { show: true, length: 5, inside: false, lineStyle: { color: axisColor, width: 1 } };
  const labelStyle = { fontSize: 18, color: "#222", fontFamily: FONT };
  const titleStyle = { fontSize: 28, fontFamily: FONT, fill: "#111", align: "center", verticalAlign: "middle" };

  return {
    animation: false,
    textStyle: { fontFamily: FONT },
    grid: [
      { left: 120, top: 10, width: 1118, height: 638, show: true, borderColor: axisColor, borderWidth: 1, backgroundColor: "transparent" },
      { left: 120, top: 712, width: 1118, height: 518, show: true, borderColor: axisColor, borderWidth: 1, backgroundColor: "transparent" },
    ],
    xAxis: [
      { gridIndex: 0, type: "value", min: 0, max: T_MAX, interval: 200,
        axisLine: { show: true, onZero: false, lineStyle: { color: axisColor } },
        axisTick: { ...tickStyle, length: 6, customValues: xTicks }, axisLabel: { show: false }, splitLine: { show: false } },
      { gridIndex: 1, type: "value", min: 0, max: T_MAX, interval: 200,
        axisLine: { show: true, onZero: false, lineStyle: { color: axisColor } },
        axisTick: { ...tickStyle, customValues: xTicks },
        axisLabel: { ...labelStyle, margin: 6, customValues: xTicks },
        splitLine: { show: true, lineStyle: { color: "#d4d4d4", width: 1 } } },
    ],
    yAxis: [
      { gridIndex: 0, type: "value", min: 0, max: 63.8, show: false },
      { gridIndex: 1, type: "value", min: 0, max: 4.98, position: "left",
        axisLine: { show: true, onZero: false, lineStyle: { color: axisColor } },
        axisTick: { ...tickStyle, customValues: leftTicks },
        axisLabel: { ...labelStyle, fontSize: 19, margin: 8, customValues: leftTicks },
        splitLine: { show: false } },
      { gridIndex: 1, type: "value", min: 4, max: 16, interval: 2, position: "right",
        axisLine: { show: true, onZero: false, lineStyle: { color: axisColor } },
        axisTick: { ...tickStyle },
        axisLabel: { ...labelStyle, fontSize: 19, margin: 8 },
        splitLine: { show: false } },
    ],
    legend: {
      data: refNames, orient: "vertical", left: 1243, top: 293, icon: "rect", itemWidth: 36, itemHeight: 6,
      itemGap: 7, selectedMode: false, backgroundColor: "#fff", borderColor: "#cccccc", borderWidth: 1,
      borderRadius: 4, padding: [7, 7, 7, 4],
      textStyle: { fontSize: 14, color: "#111", fontFamily: FONT },
    },
    graphic: [
      { type: "text", left: 11, top: 24, style: { text: "A", fontSize: 31, fontWeight: "bold", fontFamily: FONT, fill: "#000" } },
      { type: "text", left: 11, top: 727, style: { text: "B", fontSize: 31, fontWeight: "bold", fontFamily: FONT, fill: "#000" } },
      { type: "text", x: 680, y: 1273, style: { ...titleStyle, fontSize: 27, text: "time (ns)", fontStyle: "italic" } },
      { type: "text", x: 47, y: 971, rotation: Math.PI / 2, style: { ...titleStyle, text: "Gate radii (Å)" } },
      { type: "text", x: 79, y: 967, rotation: Math.PI / 2, style: { ...titleStyle, text: "G-loop (brown), HBC (violet)" } },
      { type: "text", x: 1292, y: 968, rotation: Math.PI / 2, style: { ...titleStyle, text: "Opposit subunits distance (Å)" } },
      { type: "text", x: 1325, y: 968, rotation: Math.PI / 2, style: { ...titleStyle, text: "G-loop (red, orange), HBC (blue, cyan)" } },
    ],
    series,
  };
}

export default function App() {
  const ref = useRef<HTMLDivElement>(null);
  useEffect(() => {
    if (!ref.current) return;
    const chart = echarts.init(ref.current, null, { renderer: "svg" });
    chart.setOption(buildOption() as any);
    return () => chart.dispose();
  }, []);
  return (
    <div style={{ position: "absolute", left: 0, top: 0, width: 1386, height: 1288, background: "#fff" }}>
      <div ref={ref} style={{ width: 1386, height: 1288 }} />
    </div>
  );
}
